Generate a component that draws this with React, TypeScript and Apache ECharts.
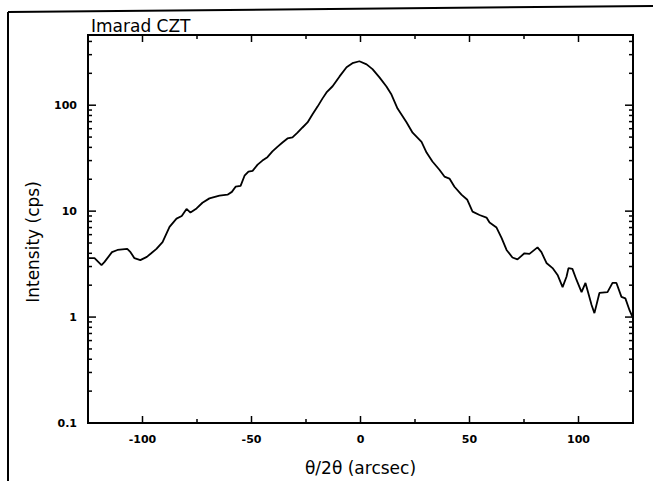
import { useEffect, useRef } from 'react';
import * as echarts from 'echarts';

// θ/2θ offset (arcsec)
const thetaArcsec = [
  -125, -122, -118.8, -117.5, -114, -111.5, -107, -105.5, -103.7, -101, -98, -96, -93.6, -90.8,
  -87.6, -84.4, -82, -79.8, -78, -75.2, -72.5, -69.3, -64.7, -61, -59, -57.3, -55, -53.2, -51.4,
  -49.5, -47.2, -45, -42.7, -40.4, -38, -35.8, -33.5, -31.2, -28.9, -26.6, -24.3, -22, -19.7,
  -17.4, -15.6, -12.8, -9.6, -6.4, -3.7, -0.5, 2.8, 5.5, 8.7, 11.9, 14.2, 17, 21.1, 23.9, 28,
  30.3, 33, 36.2, 38.5, 40.8, 43.1, 46.3, 49, 51.4, 54.6, 57.8, 59.2, 62.4, 64.7, 67, 69.7, 72,
  75.2, 77.5, 81.2, 83, 85.3, 88.1, 90.4, 92.7, 94.5, 95.4, 97.2, 99.1, 101.4, 103.2, 104.1, 106,
  107.3, 109.6, 113.3, 115.6, 117.4, 119.7, 121.5, 123.4, 124.8,
];
// Intensity (cps)
const intensityCps = [
  3.6, 3.6, 3.1, 3.3, 4.1, 4.3, 4.4, 4.1, 3.6, 3.45, 3.7, 4.0, 4.4, 5.1,
  7.1, 8.5, 9.0, 10.5, 9.7, 10.6, 12, 13.2, 14, 14.3, 15.2, 17, 17.3, 21.6, 23.6,
  24, 27.5, 30, 32.3, 36.6, 40.7, 44.5, 48.5, 49.7, 55, 61.6, 68.7, 82, 97,
  116, 132, 151, 187, 228, 249, 260, 243, 219, 183, 150, 126, 93, 69, 55, 45,
  35.7, 29.4, 24.6, 21.2, 20.3, 17, 14.3, 12.8, 9.9, 9.2, 8.7, 7.8, 7.0, 5.6, 4.3, 3.65, 3.5,
  4.0, 3.95, 4.55, 4.1, 3.24, 2.9, 2.5, 1.92, 2.4, 2.9, 2.85, 2.24, 1.72, 2.1, 1.8, 1.3,
  1.09, 1.69, 1.72, 2.1, 2.1, 1.55, 1.5, 1.16, 1.0,
];

const xTickLabels = [-100, -50, 0, 50, 100];
const xMinorTicks = [-75, -25, 25, 75];
const yTickLabels = [0.1, 1, 10, 100];
const yMinorTicks = [
  0.2, 0.3, 0.4, 0.5, 0.6, 0.7, 0.8, 0.9,
  2, 3, 4, 5, 6, 7, 8, 9,
  20, 30, 40, 50, 60, 70, 80, 90,
  200, 300, 400,
];

const X_MIN = -125;
const X_MAX = 125;
const Y_MIN = 0.1;
const Y_MAX = 460;

const FONT = 'DejaVu Sans';

export default function App() {
  const ref = useRef<HTMLDivElement>(null);

  useEffect(() => {
    document.body.style.margin = '0';
    const chart = echarts.init(ref.current!, null, { renderer: 'svg' });

    const lineData = thetaArcsec.map((x, i) => [x, intensityCps[i]]);
    const yTickData = [
      ...yTickLabels.map((v) => [X_MIN, v, 1]),
      ...yMinorTicks.map((v) => [X_MIN, v, 0]),
    ];
    const xTickData = [
      ...xTickLabels.map((v) => [v, Y_MIN, 1]),
      ...xMinorTicks.map((v) => [v, Y_MIN, 0]),
    ];
    const tickStyle = { stroke: '#000', lineWidth: 1.5 };

    chart.setOption({
      animation: false,
      backgroundColor: '#fff',
      title: {
        text: 'Imarad CZT',
        left: 86,
        top: 12,
        textStyle: { fontFamily: FONT, fontSize: 17, fontWeight: 'normal', color: '#000' },
      },
      graphic: [
        { type: 'line', shape: { x1: 8, y1: 12, x2: 653, y2: 6 }, style: { stroke: '#000', lineWidth: 2 } },
        { type: 'line', shape: { x1: 8, y1: 12, x2: 8, y2: 481 }, style: { stroke: '#000', lineWidth: 2 } },
        {
          type: 'text',
          x: 33,
          y: 242,
          rotation: Math.PI / 2,
          style: {
            text: 'Intensity (cps)',
            font: `17px "${FONT}"`,
            fill: '#000',
            align: 'center',
            verticalAlign: 'middle',
          },
        },
      ],
      grid: {
        left: 88,
        right: 20,
        top: 35,
        bottom: 58,
        show: true,
        borderColor: '#000',
        borderWidth: 2,
        backgroundColor: 'transparent',
      },
      xAxis: {
        type: 'value',
        min: X_MIN,
        max: X_MAX,
        interval: 25,
        name: 'θ/2θ (arcsec)',
        nameLocation: 'middle',
        nameGap: 36,
        nameTextStyle: { fontFamily: FONT, fontSize: 17, color: '#000', lineHeight: 17 },
        axisLine: { show: false },
        axisTick: { show: false },
        splitLine: { show: false },
        axisLabel: {
          margin: 11,
          fontFamily: FONT,
          fontWeight: 'bold',
          fontSize: 11,
          color: '#000',
          formatter: (v: number) => (xTickLabels.includes(v) ? String(v) : ''),
        },
      },
      yAxis: {
        type: 'log',
        logBase: 10,
        min: Y_MIN,
        max: Y_MAX,
        axisLine: { show: false },
        axisTick: { show: false },
        splitLine: { show: false },
        minorTick: { show: false },
        axisLabel: {
          margin: 11,
          fontFamily: FONT,
          fontWeight: 'bold',
          fontSize: 11,
          color: '#000',
          formatter: (v: number) => {
            const m = yTickLabels.find((t) => Math.abs(Math.log10(t) - Math.log10(v)) < 1e-6);
            return m !== undefined ? String(m) : '';
          },
        },
      },
      series: [
        {
          type: 'line',
          data: lineData,
          showSymbol: false,
          symbol: 'none',
          lineStyle: { color: '#000', width: 1.8 },
          itemStyle: { color: '#000' },
          z: 3,
        },
        {
          type: 'custom',
          silent: true,
          clip: false,
          data: yTickData,
          renderItem: (params: any, api: any) => {
            const v = api.value(1);
            const len = api.value(2) ? 8 : 4;
            const pl = api.coord([X_MIN, v]);
            const pr = api.coord([X_MAX, v]);
            return {
              type: 'group',
              children: [
                { type: 'line', shape: { x1: pl[0], y1: pl[1], x2: pl[0] + len, y2: pl[1] }, style: tickStyle },
                { type: 'line', shape: { x1: pr[0], y1: pr[1], x2: pr[0] - len, y2: pr[1] }, style: tickStyle },
              ],
            };
          },
          z: 4,
        },
        {
          type: 'custom',
          silent: true,
          clip: false,
          data: xTickData,
          renderItem: (params: any, api: any) => {
            const v = api.value(0);
            const len = api.value(2) ? 7 : 4;
            const pb = api.coord([v, Y_MIN]);
            const pt = api.coord([v, Y_MAX]);
            return {
              type: 'group',
              children: [
                { type: 'line', shape: { x1: pb[0], y1: pb[1], x2: pb[0], y2: pb[1] - len }, style: tickStyle },
                { type: 'line', shape: { x1: pt[0], y1: pt[1], x2: pt[0], y2: pt[1] + len }, style: tickStyle },
              ],
            };
          },
          z: 4,
        },
      ],
    });

    return () => chart.dispose();
  }, []);

  return <div ref={ref} style={{ width: 653, height: 481 }} />;
}
